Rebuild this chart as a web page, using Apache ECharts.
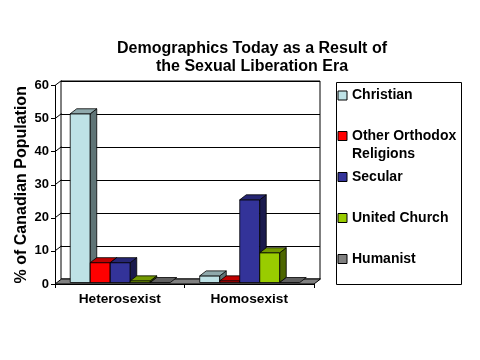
<!DOCTYPE html>
<html>
<head>
<meta charset="utf-8">
<script src="https://cdn.jsdelivr.net/npm/echarts@6/dist/echarts.min.js"></script>
<style>html,body{margin:0;padding:0;background:#fff;}#c{width:480px;height:360px;}</style>
</head>
<body>
<div id="c"></div>
<script>
const categories = ['Heterosexist', 'Homosexist'];
const seriesNames = ['Christian', 'Other Orthodox\nReligions', 'Secular', 'United Church', 'Humanist'];
const christian = [51, 2];
const otherOrthodox = [6, 0.5];
const secular = [6, 25];
const unitedChurch = [0.5, 9];
const humanist = [0, 0];
const yTicks = [0, 10, 20, 30, 40, 50, 60];

const seriesValues = [christian, otherOrthodox, secular, unitedChurch, humanist];
const faceColors = [
  ['#BEE2E6', '#8FA9AC', '#5F7476'],
  ['#FF0000', '#BF0000', '#800000'],
  ['#333399', '#262673', '#1A1A4D'],
  ['#99CC00', '#739900', '#4D6600'],
  ['#808080', '#5F5F5F', '#404040']
];
const FONT = '"Liberation Sans", Arial, sans-serif';
const DX = 6.5, DY = -5;

function makeBar(sIdx) {
  const col = faceColors[sIdx];
  return function (params, api) {
    const c = api.value(0), v = api.value(1);
    const p0 = api.coord([c, 0]);
    const p1 = api.coord([c, v]);
    const band = api.size([1, 0])[0];
    const bw = band * 0.1545;
    const x0 = p0[0] - 2.5 * bw + sIdx * bw + 0.5;
    const yb = p0[1] - 1.5, yt = p1[1] - 1.5;
    const st = { stroke: '#000', lineWidth: 0.8 };
    const children = [];
    if (yb - yt > 0.3) {
      children.push({ type: 'rect', shape: { x: x0, y: yt, width: bw, height: yb - yt },
        style: Object.assign({ fill: col[0] }, st) });
      children.push({ type: 'polygon', shape: { points: [[x0 + bw, yt], [x0 + bw, yb], [x0 + bw + DX, yb + DY], [x0 + bw + DX, yt + DY]] },
        style: Object.assign({ fill: col[2] }, st) });
    }
    children.push({ type: 'polygon', shape: { points: [[x0, yt], [x0 + bw, yt], [x0 + bw + DX, yt + DY], [x0 + DX, yt + DY]] },
      style: Object.assign({ fill: col[1] }, st) });
    return { type: 'group', children: children };
  };
}

function renderWall(params, api) {
  const v = api.value(1);
  const cs = params.coordSys;
  const p = api.coord([0, v]);
  const x = cs.x, y = p[1];
  const children = [];
  if (v === 0) {
    children.push({ type: 'polygon', shape: { points: [[x, y], [x + cs.width, y], [x + cs.width + DX, y + DY], [x + DX, y + DY]] },
      style: { fill: '#808080', stroke: '#000', lineWidth: 1 } });
  } else {
    children.push({ type: 'line', shape: { x1: x, y1: y, x2: x + DX, y2: y + DY }, style: { stroke: '#000', lineWidth: 1 } });
  }
  return { type: 'group', children: children };
}

const series = [{
  type: 'custom', name: '_wall', xAxisIndex: 0, yAxisIndex: 0, z: 1, silent: true,
  renderItem: renderWall, encode: { x: 0, y: 1 },
  data: yTicks.map(t => [0, t])
}];
seriesNames.forEach((n, i) => {
  series.push({
    type: 'custom', name: n, xAxisIndex: 0, yAxisIndex: 0, z: 2 + i,
    itemStyle: { color: faceColors[i][0] },
    renderItem: makeBar(i), encode: { x: 0, y: 1 },
    data: seriesValues[i].map((v, k) => [k, v])
  });
});

const legendText = { fontFamily: FONT, fontWeight: 'bold', fontSize: 14, color: '#000', lineHeight: 16 };
const legendCommon = { orient: 'vertical', left: 337.5, padding: 0, icon: 'rect', itemWidth: 9, itemHeight: 9,
  itemStyle: { borderColor: '#000', borderWidth: 1 }, selectedMode: false };

const chart = echarts.init(document.getElementById('c'), null, { renderer: 'canvas' });
chart.setOption({
  backgroundColor: '#fff',
  animation: false,
  title: {
    text: 'Demographics Today as a Result of\nthe Sexual Liberation Era',
    left: 252, textAlign: 'center', top: 39, padding: 0,
    textStyle: { fontFamily: FONT, fontWeight: 'bold', fontSize: 16, lineHeight: 18.5, color: '#000' }
  },
  legend: [
    Object.assign({ top: 87.5, data: [seriesNames[0]], textStyle: legendText }, legendCommon),
    Object.assign({ top: 109, data: [seriesNames[1]], formatter: function (name) { return ' \n' + name; },
      textStyle: Object.assign({}, legendText, { lineHeight: 18 }) }, legendCommon),
    Object.assign({ top: 169, itemGap: 25, data: seriesNames.slice(2), textStyle: legendText }, legendCommon)
  ],
  graphic: [{
    type: 'rect', z: 0, shape: { x: 336.5, y: 82.5, width: 125, height: 202 },
    style: { fill: 'none', stroke: '#000', lineWidth: 1 }
  }],
  grid: [
    { left: 55, top: 85.5, width: 259, height: 198.5, show: false },
    { left: 61, top: 81, width: 259, height: 198, show: true, borderColor: '#000', borderWidth: 1, backgroundColor: '#fff', z: 0 }
  ],
  xAxis: [
    { type: 'category', gridIndex: 0, data: categories, boundaryGap: true,
      axisLine: { show: true, lineStyle: { color: '#000', width: 1 } },
      axisTick: { show: true, length: 4, lineStyle: { color: '#000' } },
      axisLabel: { margin: 8, fontFamily: FONT, fontWeight: 'bold', fontSize: 13.7, color: '#000' },
      splitLine: { show: false }, z: 10 },
    { type: 'category', gridIndex: 1, data: categories, show: false }
  ],
  yAxis: [
    { type: 'value', gridIndex: 0, min: 0, max: 60, interval: 10,
      name: '% of Canadian Population', nameLocation: 'middle', nameRotate: 90, nameGap: 25,
      nameMoveOverlap: false,
      nameTextStyle: { fontFamily: FONT, fontWeight: 'bold', fontSize: 16, color: '#000' },
      axisLine: { show: true, lineStyle: { color: '#000', width: 1 } },
      axisTick: { show: true, length: 4, lineStyle: { color: '#000' } },
      axisLabel: { margin: 6, fontFamily: FONT, fontWeight: 'bold', fontSize: 13, color: '#000' },
      splitLine: { show: false }, z: 10 },
    { type: 'value', gridIndex: 1, min: 0, max: 60, interval: 10,
      axisLine: { show: false }, axisTick: { show: false }, axisLabel: { show: false },
      splitLine: { show: true, lineStyle: { color: '#000', width: 1 } } }
  ],
  series: series
});
</script>
</body>
</html>
